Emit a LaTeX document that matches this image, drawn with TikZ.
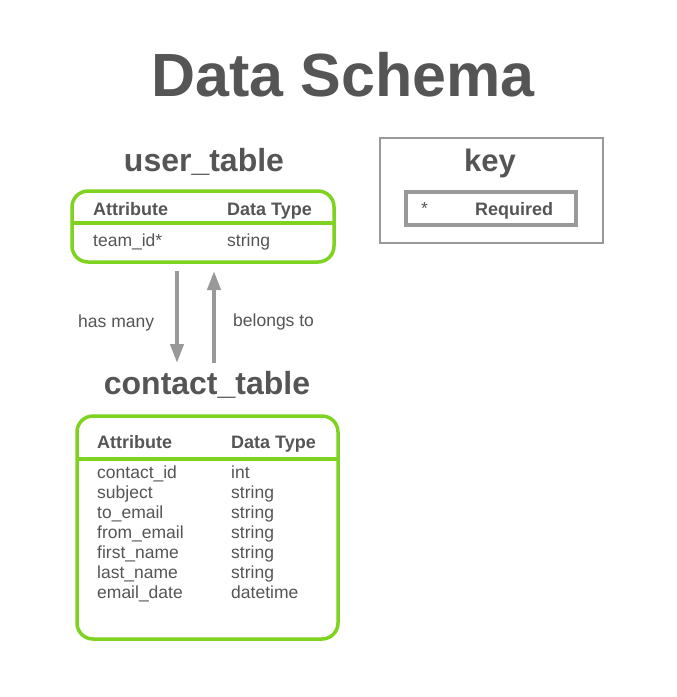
\documentclass[tikz,border=0pt]{standalone}
\usepackage{fontspec}
\setmainfont{Liberation Sans}
\usetikzlibrary{arrows.meta}
\definecolor{grn}{RGB}{126,211,33}
\definecolor{txt}{RGB}{85,85,85}
\definecolor{gry}{RGB}{153,153,153}
\begin{document}
\begin{tikzpicture}[x=1pt,y=-1pt,
  every node/.style={text=txt,inner sep=0pt},
  tbl/.style={draw=grn,line width=3.5pt,rounded corners=16pt},
  sep/.style={draw=grn,line width=3.5pt},
  hdr/.style={anchor=mid west,yshift=-3.5pt,font=\fontsize{18}{20}\selectfont\bfseries},
  cell/.style={anchor=mid west,yshift=-3.5pt,font=\fontsize{17.5}{20}\selectfont},
  ttl/.style={font=\fontsize{32}{36}\selectfont\bfseries},
  rel/.style={draw=gry,line width=4pt,-{Triangle[length=19pt,width=13pt]}}]
\useasboundingbox[fill=white] (0,0) rectangle (677,697);
% title
\node[font=\fontsize{61}{64}\selectfont\bfseries] (title) at (343,75) {Data Schema};
% user table
\node[ttl] (ut) at (204,162) {user\_table};
\draw[tbl] (72,191) rectangle (334,262);
\draw[sep] (72,223) -- (334,223);
\node[hdr] (ua) at (93,209) {Attribute};
\node[hdr] (ud) at (227,209) {Data Type};
\node[cell] (ur1) at (93,240) {team\_id*};
\node[cell] (ur2) at (227,240) {string};
% arrows
\coordinate (d1) at (177,271);
\coordinate (d2) at (177,363);
\coordinate (u1) at (214,363);
\coordinate (u2) at (214,271);
\draw[rel] (d1) -- (d2);
\draw[rel] (u1) -- (u2);
\node[cell] (hm) at (78,321) {has many};
\node[cell] (bt) at (233,320) {belongs to};
% contact table
\node[ttl] (ct) at (207,385) {contact\_table};
\draw[tbl] (77,416) rectangle (338,639);
\draw[sep] (77,459) -- (338,459);
\node[hdr] (ca) at (97,442) {Attribute};
\node[hdr] (cd) at (231,442) {Data Type};
\foreach \a/\t [count=\i from 0] in {contact\_id/int,subject/string,to\_email/string,from\_email/string,first\_name/string,last\_name/string,email\_date/datetime}{
  \node[cell] (cr\i a) at (97,472+20*\i) {\a};
  \node[cell] (cr\i t) at (231,472+20*\i) {\t};
}
% key
\draw[draw=gry,line width=2pt] (380,138) rectangle (603,243);
\node[ttl,font=\fontsize{31}{34}\selectfont\bfseries] (key) at (490,163) {key};
\draw[draw=gry,line width=3.5pt] (406,192) rectangle (576,225);
\node[cell] (ks) at (421,208) {*};
\node[hdr] (kr) at (475,209) {Required};
\end{tikzpicture}
\end{document}
